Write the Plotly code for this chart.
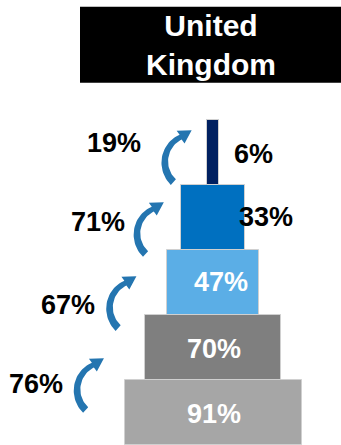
import math
import plotly.graph_objects as go

# Funnel stages, bottom to top
stage_values = [91, 70, 47, 33, 6]
stage_labels = ["91%", "70%", "47%", "33%", "6%"]
stage_colors = ["#A6A6A6", "#7F7F7F", "#5BAEE6", "#0070C0", "#002060"]
label_colors = ["white", "white", "white", "black", "black"]

# Step-to-step conversion rates, bottom step first
conversion_labels = ["76%", "67%", "71%", "19%"]

title_text = "United<br>Kingdom"

# Layout helpers (pixel scale of the axes)
W, H = 341, 445
PX_PER_X = 1.945
PX_PER_Y = 65.0
CENTER_PX = 213.0
ROW0_PX = 412.4

x_range = [-CENTER_PX / PX_PER_X, (W - CENTER_PX) / PX_PER_X]
y_range = [-(H - ROW0_PX) / PX_PER_Y, ROW0_PX / PX_PER_Y]

rows = list(range(len(stage_values)))

fig = go.Figure()
fig.add_trace(go.Bar(
    y=rows,
    x=stage_values,
    base=[-v / 2 for v in stage_values],
    orientation="h",
    width=1.0,
    marker=dict(color=stage_colors, line=dict(color="#D0D0D0", width=1)),
    hoverinfo="skip",
    showlegend=False,
))

FONT = "Liberation Sans, Arial, sans-serif"

# value labels: x offsets (in axis units) for each stage label
label_x = [0.4, 0.4, 3.9, 27.2, 20.6]
label_dy = [-0.03, -0.025, 0.006, 0.006, -0.025]
for i, (txt, col) in enumerate(zip(stage_labels, label_colors)):
    fig.add_annotation(x=label_x[i], y=rows[i] + label_dy[i], text=txt,
                       showarrow=False, xanchor="center", yanchor="middle",
                       font=dict(family=FONT, size=27, color=col, weight="bold"))

# curved arrows between stages; anchor = leftmost point of each arc (axis units)
arrow_anchor = [(-69.9, 0.345), (-53.2, 1.606), (-39.1, 2.745), (-24.8, 3.852)]
arrow_color = "#2475B0"


def arrow_polygon(ax, ay):
    lx = CENTER_PX + ax * PX_PER_X
    ly = ROW0_PX - ay * PX_PER_Y
    cx, cy = lx + 26.0, ly
    rx, ry = 26.0, 27.0
    t0, t1 = math.radians(132), math.radians(247)
    n = 30
    outer, inner = [], []
    for k in range(n + 1):
        t = t0 + (t1 - t0) * k / n
        w = 3.8 + (2.6 - 3.8) * k / n
        c, s = math.cos(t), math.sin(t)
        outer.append((cx + (rx + w) * c, cy + (ry + w) * s))
        inner.append((cx + (rx - w) * c, cy + (ry - w) * s))
    c, s = math.cos(t1), math.sin(t1)
    ex, ey = cx + rx * c, cy + ry * s
    tx, ty = -rx * s, ry * c
    tl = math.hypot(tx, ty)
    tx, ty = tx / tl, ty / tl
    # tilt the head slightly upward
    ang = math.radians(-8)
    tx, ty = tx * math.cos(ang) - ty * math.sin(ang), tx * math.sin(ang) + ty * math.cos(ang)
    nx, ny = -ty, tx
    head = [(ex - 7.5 * nx, ey - 7.5 * ny), (ex + 13 * tx, ey + 13 * ty),
            (ex + 7.5 * nx, ey + 7.5 * ny)]
    # orient head corners to match outer/inner sides
    if math.hypot(head[0][0] - outer[-1][0], head[0][1] - outer[-1][1]) > \
       math.hypot(head[2][0] - outer[-1][0], head[2][1] - outer[-1][1]):
        head = head[::-1]
    pts = outer + head + inner[::-1] + [outer[0]]
    xs = [(p[0] - CENTER_PX) / PX_PER_X for p in pts]
    ys = [(ROW0_PX - p[1]) / PX_PER_Y for p in pts]
    return xs, ys


for ax, ay in arrow_anchor:
    xs, ys = arrow_polygon(ax, ay)
    fig.add_trace(go.Scatter(x=xs, y=ys, mode="lines", fill="toself",
                             fillcolor=arrow_color, line=dict(width=0, color=arrow_color),
                             hoverinfo="skip", showlegend=False))

# conversion labels (right edge, centre y) in axis units
conv_pos = [(-75.9, 0.44), (-59.4, 1.66), (-44.0, 2.93), (-36.0, 4.15)]
for (px, py), txt in zip(conv_pos, conversion_labels):
    fig.add_annotation(x=px, y=py, text=txt, showarrow=False,
                       xanchor="right", yanchor="middle",
                       font=dict(family=FONT, size=27, color="black", weight="bold"))

# title block
fig.add_shape(type="rect", xref="paper", yref="paper",
              x0=80 / W, x1=1.0, y0=(H - 82.7) / H, y1=(H - 6.7) / H,
              fillcolor="black", line=dict(width=0), layer="below")
fig.add_annotation(xref="paper", yref="paper", x=211 / W, y=(H - 45) / H,
                   text=title_text, showarrow=False, xanchor="center", yanchor="middle",
                   font=dict(family=FONT, size=30, color="white", weight="bold"))

fig.update_layout(
    width=W, height=H,
    margin=dict(l=0, r=0, t=0, b=0),
    paper_bgcolor="white", plot_bgcolor="white",
    xaxis=dict(range=x_range, visible=False, fixedrange=True),
    yaxis=dict(range=y_range, visible=False, fixedrange=True),
    bargap=0,
    showlegend=False,
)

fig.write_html("out.html")
